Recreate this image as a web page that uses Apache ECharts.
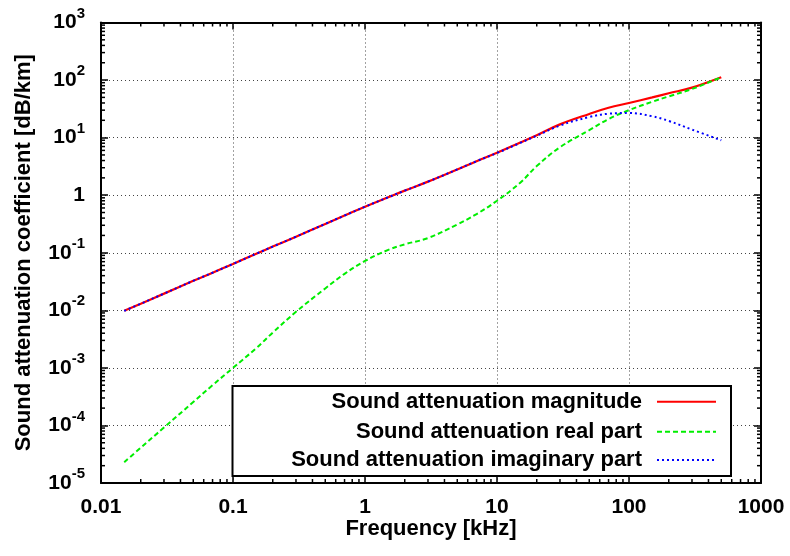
<!DOCTYPE html>
<html><head><meta charset="utf-8">
<script src="https://cdn.jsdelivr.net/npm/echarts@6/dist/echarts.min.js"></script>
<style>html,body{margin:0;padding:0;background:#fff}#c{width:790px;height:556px}</style>
</head><body><div id="c"></div>
<script>
const freq      = [0.015,0.02,0.03,0.05,0.07,0.1,0.15,0.2,0.3,0.5,0.7,1,1.5,2,3,5,7,10,15,20,30,50,70,100,150,200,300,500];
const magnitude = [0.0098,0.013,0.0195,0.0325,0.045,0.064,0.096,0.128,0.19,0.317,0.443,0.63,0.92,1.2,1.72,2.8,3.9,5.45,8.2,11,17,25.8,33,40,50,59,74,112];
const realPart  = [2.3e-5,4.1e-5,9.2e-5,2.55e-4,5e-4,1e-3,2.2e-3,4.1e-3,9.4e-3,0.024,0.043,0.072,0.112,0.14,0.18,0.31,0.47,0.8,1.65,3.2,6.8,13.5,21,30,42,52,70,112];
const imagPart  = [0.0098,0.013,0.0195,0.0325,0.045,0.064,0.096,0.128,0.19,0.317,0.443,0.63,0.92,1.2,1.72,2.8,3.9,5.4,8.1,10.8,16.2,22.8,26,26.8,23.5,19.5,13.8,9];
const seriesNames = ['Sound attenuation magnitude','Sound attenuation real part','Sound attenuation imaginary part'];
const xTickLabels = ['0.01','0.1','1','10','100','1000'];
const xMin = 0.01, xMax = 1000, yMin = 1e-5, yMax = 1e3;

const minorMult = [2,3,4,5,6,7,8,9];
function minorTicks(lo, hi){ const out=[]; for(let d=lo; d<hi*0.999; d*=10){ minorMult.forEach(m=>{ const v=d*m; if(v<hi) out.push(v); }); } return out; }
const xMinor = minorTicks(xMin, xMax);
const yMinor = minorTicks(yMin, yMax);

const FONT = 'Liberation Sans';
const chart = echarts.init(document.getElementById('c'), null, {renderer:'canvas'});
const pair = (xs, ys) => xs.map((x,i)=>[x, ys[i]]);

function yLabel(v){
  const e = Math.round(Math.log10(v));
  if (e === 0) return '{b|1}';
  return '{b|10}{s|' + (e<0 ? '-' + (-e) : e) + '}';
}
function xLabel(v){
  const e = Math.round(Math.log10(v));
  return xTickLabels[e + 2];
}

const axisBase = {
  type:'log', logBase:10,
  axisLine:{show:true, lineStyle:{color:'#000', width:2}},
  axisTick:{show:true, inside:true, length:7, lineStyle:{color:'#000', width:1.5}},
  minorTick:{show:false},
};

const legendCommon = {
  orient:'horizontal', align:'right', itemWidth:59, itemHeight:4, itemGap:0, z:20, padding:0,
  textStyle:{fontFamily:FONT, fontWeight:'bold', fontSize:22, color:'#000', padding:[0,10,0,0]},
  itemStyle:{opacity:0},
  right: 73, selectedMode:false
};

chart.setOption({
  animation:false,
  backgroundColor:'#fff',
  grid:{left:101, right:29, top:22.5, bottom:73, containLabel:false},
  xAxis:[
    Object.assign({}, axisBase, {
      min:xMin, max:xMax, position:'bottom',
      name:'Frequency [kHz]', nameLocation:'middle', nameGap:35, nameMoveOverlap:false,
      nameTextStyle:{fontFamily:FONT, fontWeight:'bold', fontSize:22, color:'#000'},
      axisLabel:{formatter:xLabel, fontFamily:FONT, fontWeight:'bold', fontSize:21, color:'#000', margin:14},
      splitLine:{show:true, lineStyle:{color:'#444', type:[1,3], width:1}}
    }),
    Object.assign({}, axisBase, {
      min:xMin, max:xMax, position:'top', axisLabel:{show:false}, splitLine:{show:false}
    })
  ],
  yAxis:[
    Object.assign({}, axisBase, {
      min:yMin, max:yMax, position:'left',
      name:'Sound attenuation coefficient [dB/km]', nameLocation:'middle', nameGap:66,
      nameTextStyle:{fontFamily:FONT, fontWeight:'bold', fontSize:22, color:'#000'},
      axisLabel:{formatter:yLabel, fontFamily:FONT, fontWeight:'bold', margin:16, color:'#000',
        rich:{
          b:{fontFamily:FONT, fontWeight:'bold', fontSize:21, lineHeight:21, color:'#000', verticalAlign:'bottom'},
          s:{fontFamily:FONT, fontWeight:'bold', fontSize:15, lineHeight:15, color:'#000', verticalAlign:'bottom', padding:[0,0,12,0]}
        }},
      splitLine:{show:true, lineStyle:{color:'#444', type:[1,3], width:1}}
    }),
    Object.assign({}, axisBase, {
      min:yMin, max:yMax, position:'right', axisLabel:{show:false}, splitLine:{show:false}
    })
  ],
  legend:[
    Object.assign({}, legendCommon, {top:390.7, data:[seriesNames[0]]}),
    Object.assign({}, legendCommon, {top:420.7, data:[seriesNames[1]]}),
    Object.assign({}, legendCommon, {top:449, data:[seriesNames[2]]})
  ],
  graphic:[{type:'rect', shape:{x:232.5, y:386, width:498.5, height:90}, style:{fill:'#fff', stroke:'#000', lineWidth:2}, z:8}],
  series:[
    {name:seriesNames[0], type:'line', data:pair(freq, magnitude), smooth:0.4, showSymbol:false, symbol:'none',
      lineStyle:{color:'#ff0000', width:2.2}, itemStyle:{color:'#ff0000'}, z:3},
    {name:seriesNames[1], type:'line', data:pair(freq, realPart), smooth:0.4, showSymbol:false, symbol:'none',
      lineStyle:{color:'#00ee00', width:2, type:[5,3]}, itemStyle:{color:'#00ee00'}, z:4},
    {name:seriesNames[2], type:'line', data:pair(freq, imagPart), smooth:0.4, showSymbol:false, symbol:'none',
      lineStyle:{color:'#0000ff', width:2, type:[2,3]}, itemStyle:{color:'#0000ff'}, z:5},
    {type:'custom', silent:true, data:xMinor.map(v=>[v]), clip:false, z:6,
      renderItem:function(params, api){
        const b = api.coord([api.value(0), yMin]); const t = api.coord([api.value(0), yMax]);
        return {type:'group', children:[
          {type:'line', shape:{x1:b[0], y1:b[1], x2:b[0], y2:b[1]-4}, style:{stroke:'#000', lineWidth:1.5}},
          {type:'line', shape:{x1:t[0], y1:t[1], x2:t[0], y2:t[1]+4}, style:{stroke:'#000', lineWidth:1.5}}
        ]};
      }},
    {type:'custom', silent:true, data:yMinor.map(v=>[xMin, v]), clip:false, z:6,
      renderItem:function(params, api){
        const l = api.coord([xMin, api.value(1)]); const r = api.coord([xMax, api.value(1)]);
        return {type:'group', children:[
          {type:'line', shape:{x1:l[0], y1:l[1], x2:l[0]+4, y2:l[1]}, style:{stroke:'#000', lineWidth:1.5}},
          {type:'line', shape:{x1:r[0], y1:r[1], x2:r[0]-4, y2:r[1]}, style:{stroke:'#000', lineWidth:1.5}}
        ]};
      }}
  ]
});
</script>
</body></html>
